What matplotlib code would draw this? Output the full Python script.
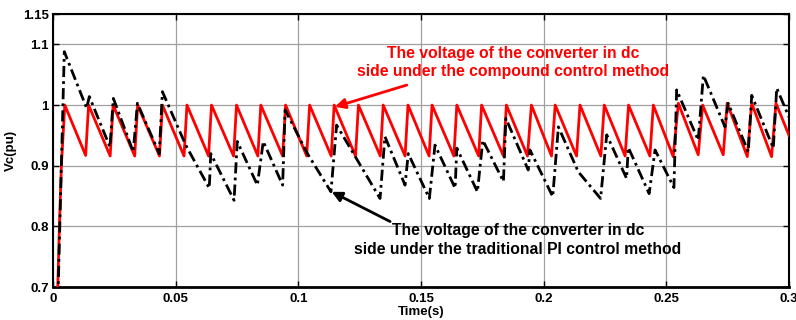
import matplotlib
matplotlib.use("Agg")
import matplotlib.pyplot as plt

# compound control (red) - vertices
red_t = [0.0018, 0.0026, 0.0034, 0.0048,
         0.0133, 0.0145, 0.0233, 0.0245, 0.0333, 0.0345, 0.0434, 0.0446,
         0.0534, 0.0546, 0.0634, 0.0646, 0.0736, 0.0748, 0.0835, 0.0847,
         0.0936, 0.0948, 0.1034, 0.1046, 0.1134, 0.1146, 0.1233, 0.1245,
         0.1334, 0.1346, 0.1435, 0.1447, 0.1533, 0.1545, 0.1634, 0.1646,
         0.1735, 0.1747, 0.1836, 0.1848, 0.1934, 0.1950, 0.2032, 0.2047,
         0.2134, 0.2148, 0.2233, 0.2247, 0.2332, 0.2346, 0.2433, 0.2447,
         0.2528, 0.2549, 0.2630, 0.2648, 0.2732, 0.2748, 0.2830, 0.2848,
         0.2929, 0.2947, 0.3000]
red_v = [0.68, 0.80, 0.90, 1.00,
         0.917, 1.0, 0.916, 1.0, 0.916, 1.0, 0.916, 1.0,
         0.916, 1.0, 0.916, 1.0, 0.916, 1.0, 0.916, 1.0,
         0.916, 1.0, 0.916, 1.0, 0.916, 1.0, 0.916, 1.0,
         0.916, 1.0, 0.916, 1.0, 0.916, 1.0, 0.916, 1.0,
         0.916, 1.0, 0.916, 1.0, 0.916, 1.0, 0.916, 1.0,
         0.916, 1.0, 0.916, 1.0, 0.916, 1.0, 0.916, 1.0,
         0.915, 1.003, 0.918, 1.0, 0.918, 1.003, 0.915, 1.003,
         0.915, 1.003, 0.95]

# traditional PI control (black dash-dot)
pi_t = [0.0020, 0.0046, 0.0137, 0.0148, 0.0232, 0.0246, 0.0327, 0.0344,
        0.0433, 0.0446, 0.0541, 0.0637, 0.0643, 0.0738, 0.0751, 0.0833,
        0.0857, 0.0936, 0.0946, 0.1037, 0.1133, 0.1156, 0.1333, 0.1353,
        0.1435, 0.1448, 0.1534, 0.1557, 0.1639, 0.1646, 0.1730, 0.1752,
        0.1836, 0.1846, 0.1937, 0.1944, 0.2037, 0.2060, 0.2141, 0.2232,
        0.2257, 0.2338, 0.2345, 0.2430, 0.2454, 0.2531, 0.2542, 0.2630,
        0.2651, 0.2739, 0.2752, 0.2834, 0.2848, 0.2936, 0.2950, 0.3000]
pi_v = [0.68, 1.088, 0.995, 1.014, 0.931, 1.011, 0.923, 1.003,
        0.920, 1.022, 0.934, 0.863, 0.920, 0.843, 0.940, 0.868,
        0.940, 0.868, 0.992, 0.920, 0.857, 0.967, 0.846, 0.948,
        0.868, 0.920, 0.846, 0.934, 0.863, 0.929, 0.857, 0.942,
        0.874, 0.978, 0.893, 0.926, 0.849, 0.964, 0.890, 0.846,
        0.951, 0.879, 0.930, 0.854, 0.926, 0.864, 1.025, 0.942,
        1.049, 0.964, 1.003, 0.923, 1.016, 0.929, 1.028, 0.980]

x_ticks = [0, 0.05, 0.1, 0.15, 0.2, 0.25, 0.3]
x_labels = ["0", "0.05", "0.1", "0.15", "0.2", "0.25", "0.3"]
y_ticks = [0.7, 0.8, 0.9, 1.0, 1.1, 1.15]
y_labels = ["0.7", "0.8", "0.9", "1", "1.1", "1.15"]

red_note = "The voltage of the converter in dc\nside under the compound control method"
pi_note = "The voltage of the converter in dc\nside under the traditional PI control method"

plt.rcParams["font.family"] = "Liberation Sans"
plt.rcParams["font.weight"] = "bold"

fig = plt.figure(figsize=(7.96, 3.2), dpi=100)
ax = fig.add_axes([0.0666, 0.103, 0.9246, 0.853])

ax.plot(red_t, red_v, color="red", lw=2.0, zorder=3)
ax.plot(pi_t, pi_v, color="black", lw=2.0, linestyle=(0, (4, 1.5, 1, 1.5)), zorder=4)

ax.set_xlim(0, 0.3)
ax.set_ylim(0.7, 1.15)
ax.set_xticks(x_ticks)
ax.set_xticklabels(x_labels)
ax.set_yticks(y_ticks)
ax.set_yticklabels(y_labels)
ax.tick_params(direction="in", top=True, right=True, labelsize=9.5, length=4, width=1, pad=4)
ax.tick_params(axis="y", pad=3)
ax.grid(True, color="#a0a0a0", lw=0.9)
for s in ax.spines.values():
    s.set_linewidth(1.5)
ax.spines["bottom"].set_linewidth(2)

ax.set_xlabel("Time(s)", fontsize=9.5, fontweight="bold")
ax.set_ylabel("Vc(pu)", fontsize=9.5, fontweight="bold")
ax.xaxis.set_label_coords(0.5, -0.068)
ax.yaxis.set_label_coords(-0.049, 0.5)

# notes and arrows
ax.text(0.1875, 1.070, red_note, color="red", fontsize=11.3, fontweight="bold",
        ha="center", va="center", multialignment="center", linespacing=1.3)
ax.annotate("", xy=(0.1149, 0.997), xytext=(0.1442, 1.033),
            arrowprops=dict(arrowstyle="-|>", color="red", lw=2, mutation_scale=15,
                            shrinkA=0, shrinkB=0))
ax.text(0.1895, 0.7775, pi_note, color="black", fontsize=11.3, fontweight="bold",
        ha="center", va="center", multialignment="center", linespacing=1.3)
ax.annotate("", xy=(0.1136, 0.857), xytext=(0.1374, 0.808),
            arrowprops=dict(arrowstyle="-|>", color="black", lw=2, mutation_scale=15,
                            shrinkA=0, shrinkB=0))

fig.savefig("out.png", dpi=100)
